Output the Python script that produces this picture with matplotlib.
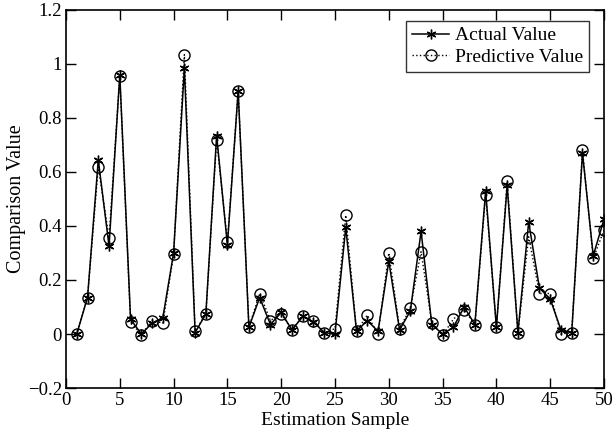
import numpy as np
import matplotlib.pyplot as plt

plt.rcParams['font.family'] = ['Liberation Serif', 'DejaVu Serif']

sample = np.arange(1, 51)
actual = [0.0, 0.135, 0.645, 0.325, 0.96, 0.055, 0.0, 0.04, 0.06, 0.3,
          0.985, 0.005, 0.075, 0.735, 0.33, 0.9, 0.025, 0.135, 0.035, 0.08,
          0.015, 0.065, 0.045, 0.005, 0.0, 0.395, 0.01, 0.05, 0.01, 0.27,
          0.015, 0.085, 0.38, 0.035, 0.0, 0.025, 0.1, 0.035, 0.53, 0.025,
          0.55, 0.005, 0.415, 0.17, 0.13, 0.015, 0.005, 0.67, 0.29, 0.425]
predict = [0.0, 0.135, 0.62, 0.355, 0.955, 0.045, -0.003, 0.05, 0.04, 0.295,
           1.035, 0.01, 0.075, 0.72, 0.34, 0.9, 0.025, 0.15, 0.05, 0.075,
           0.015, 0.065, 0.05, 0.005, 0.02, 0.44, 0.01, 0.07, 0.0, 0.3,
           0.02, 0.095, 0.305, 0.04, -0.005, 0.055, 0.09, 0.035, 0.515, 0.025,
           0.565, 0.005, 0.36, 0.15, 0.15, 0.0, 0.005, 0.68, 0.28, 0.385]
yticks = [-0.2, 0, 0.2, 0.4, 0.6, 0.8, 1.0, 1.2]
ylabels = ['\u22120.2', '0', '0.2', '0.4', '0.6', '0.8', '1', '1.2']

fig = plt.figure(figsize=(6.12, 4.44), dpi=100)
ax = fig.add_axes([66/612, 56/444, 538/612, 378/444])

# MATLAB style asterisk: 6-armed star marker
ax.plot(sample, actual, 'k-', marker=(6, 2, 0), lw=1.1, ms=7, mew=1.0,
        label='Actual Value')
ax.plot(sample, predict, 'k:o', lw=1.0, ms=8, mfc='none', mew=1.0,
        label='Predictive Value')

ax.set_xlim(0, 50)
ax.set_ylim(-0.2, 1.2)
ax.set_xticks(range(0, 51, 5))
ax.set_yticks(yticks)
ax.set_yticklabels(ylabels)
for s in ax.spines.values():
    s.set_linewidth(1.2)
ax.tick_params(direction='in', top=True, right=True, labelsize=13.5,
               length=7, width=1.0, pad=3)
ax.set_xlabel('Estimation Sample', fontsize=14, labelpad=2)
ax.set_ylabel('Comparison Value', fontsize=14.5, labelpad=1)

leg = ax.legend(loc='upper right', bbox_to_anchor=(0.972, 0.971),
                borderaxespad=0, fontsize=14, fancybox=False, edgecolor='k',
                handlelength=1.9, borderpad=0.3, labelspacing=0.22,
                handletextpad=0.3)
leg.get_frame().set_linewidth(1.0)

plt.savefig('out.png', dpi=100)
